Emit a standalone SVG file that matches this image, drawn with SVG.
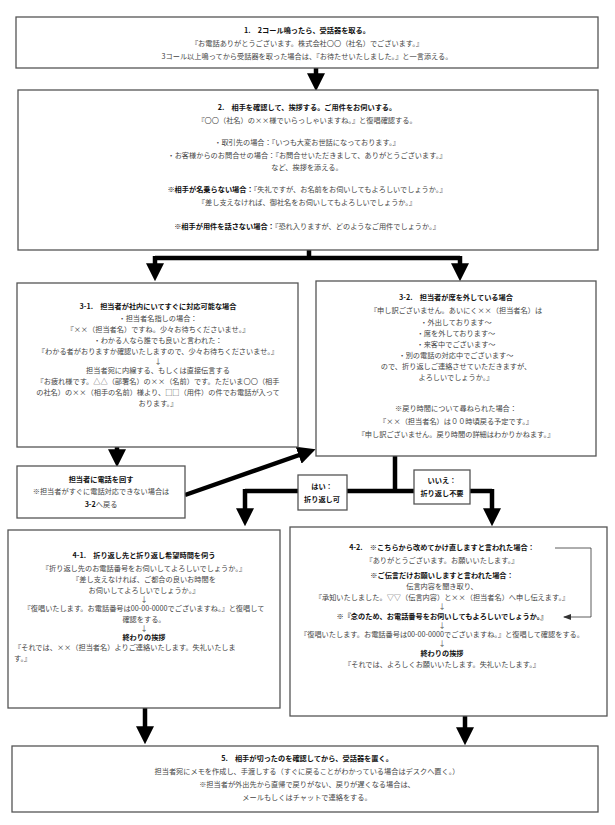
<svg xmlns="http://www.w3.org/2000/svg" width="615" height="825" viewBox="0 0 615 825">
<defs>
<style>
rect.box{fill:#fff;stroke:#555;stroke-width:1.3}
text{font-family:"Noto Sans CJK JP","Noto Sans",sans-serif;font-size:7.2px;fill:#444;text-anchor:middle}
text.b{font-weight:bold;fill:#111}
.thick{fill:none;stroke:#000;stroke-width:4.5}
.thin{fill:none;stroke:#333;stroke-width:0.8}
</style>
<marker id="ah" markerWidth="4" markerHeight="4" refX="1.5" refY="2" orient="auto" markerUnits="strokeWidth"><path d="M0,0 L4,2 L0,4Z" fill="#000"/></marker>
<marker id="sa" markerWidth="8" markerHeight="6" refX="7" refY="3" orient="auto" markerUnits="userSpaceOnUse"><path d="M0,0 L8,3 L0,6Z" fill="#333"/></marker>
</defs>
<rect width="615" height="825" fill="#fff"/>
<g id="connectors">
<path class="thick" d="M316,68 V80" marker-end="url(#ah)"/>
<path class="thick" d="M309,250 V258 M155,258 H460"/>
<path class="thick" d="M155,256 V270" marker-end="url(#ah)"/>
<path class="thick" d="M460,256 V270" marker-end="url(#ah)"/>
<path class="thick" d="M117,447 V456" marker-end="url(#ah)"/>
<path class="thick" d="M185,495 L305,453" marker-end="url(#ah)"/>
<path class="thick" d="M395,456 V491 M245,491 H492"/>
<path class="thick" d="M245,489 V515" marker-end="url(#ah)"/>
<path class="thick" d="M492,489 V515" marker-end="url(#ah)"/>
<path class="thick" d="M145,708 V733" marker-end="url(#ah)"/>
<path class="thick" d="M465,716 V734" marker-end="url(#ah)"/>
</g>
<g id="n1"><rect class="box" x="16" y="17" width="582" height="51"/>
<text class="b" x="307" y="33">1.　2コール鳴ったら、受話器を取る。</text>
<text x="307" y="46">『お電話ありがとうございます。株式会社〇〇（社名）でございます。』</text>
<text x="307" y="59">3コール以上鳴ってから受話器を取った場合は、『お待たせいたしました。』と一言添える。</text></g>
<g id="n2"><rect class="box" x="18" y="90" width="580" height="160"/>
<text class="b" x="307" y="110">2.　相手を確認して、挨拶する。ご用件をお伺いする。</text>
<text x="307" y="123">『〇〇（社名）の××様でいらっしゃいますね。』と復唱確認する。</text>
<text x="307" y="145">・取引先の場合：『いつも大変お世話になっております。』</text>
<text x="307" y="158">・お客様からのお問合せの場合：『お問合せいただきまして、ありがとうございます。』</text>
<text x="307" y="170">など、挨拶を添える。</text>
<text x="307" y="192"><tspan font-weight="bold" fill="#111">※︎相手が名乗らない場合：</tspan>『失礼ですが、お名前をお伺いしてもよろしいでしょうか。』</text>
<text x="307" y="205">『差し支えなければ、御社名をお伺いしてもよろしいでしょうか。』</text>
<text x="307" y="229"><tspan font-weight="bold" fill="#111">※︎相手が用件を話さない場合：</tspan>『恐れ入りますが、どのようなご用件でしょうか。』</text></g>
<g id="n31"><rect class="box" x="17" y="283" width="281" height="164"/>
<text class="b" x="158" y="309">3-1.　担当者が社内にいてすぐに対応可能な場合</text>
<text x="158" y="321">・担当者名指しの場合：</text>
<text x="158" y="332">『××（担当者名）ですね。少々お待ちくださいませ。』</text>
<text x="158" y="343">・わかる人なら誰でも良いと言われた：</text>
<text x="158" y="354">『わかる者がおりますか確認いたしますので、少々お待ちくださいませ。』</text>
<text x="158" y="364">↓︎</text>
<text x="158" y="373">担当者宛に内線する、もしくは直接伝言する</text>
<text x="158" y="384">『お疲れ様です。△△（部署名）の××（名前）です。ただいま〇〇（相手</text>
<text x="158" y="395">の社名）の××（相手の名前）様より、□□（用件）の件でお電話が入って</text>
<text x="158" y="406">おります。』</text></g>
<g id="n32"><rect class="box" x="316" y="281" width="280" height="175"/>
<text class="b" x="456" y="300">3-2.　担当者が席を外している場合</text>
<text x="456" y="313">『申し訳ございません。あいにく××（担当者名）は</text>
<text x="456" y="325">・外出しております～</text>
<text x="456" y="336">・席を外しております～</text>
<text x="456" y="347">・来客中でございます～</text>
<text x="456" y="358">・別の電話の対応中でございます～</text>
<text x="456" y="369">ので、折り返しご連絡させていただきますが、</text>
<text x="456" y="380">よろしいでしょうか。』</text>
<text x="456" y="411">※︎戻り時間について尋ねられた場合：</text>
<text x="456" y="424">『××（担当者名）は００時頃戻る予定です。』</text>
<text x="456" y="437">『申し訳ございません。戻り時間の詳細はわかりかねます。』</text></g>
<g id="n33"><rect class="box" x="17" y="466" width="168" height="52"/>
<text class="b" x="101" y="482">担当者に電話を回す</text>
<text x="101" y="494">※︎担当者がすぐに電話対応できない場合は</text>
<text x="101" y="507"><tspan font-weight="bold" fill="#111">3-2</tspan>へ戻る</text></g>
<g id="lyes"><rect class="box" x="298" y="475" width="49" height="35"/>
<text class="b" x="322" y="489">はい：</text>
<text class="b" x="322" y="502">折り返し可</text></g>
<g id="lno"><rect class="box" x="414" y="470" width="56" height="34"/>
<text class="b" x="442" y="483">いいえ：</text>
<text class="b" x="442" y="496">折り返し不要</text></g>
<g id="n41"><rect class="box" x="8" y="530" width="272" height="178"/>
<text class="b" x="144" y="558">4-1.　折り返し先と折り返し希望時間を伺う</text>
<text x="144" y="571">『折り返し先のお電話番号をお伺いしてよろしいでしょうか。』</text>
<text x="144" y="582">『差し支えなければ、ご都合の良いお時間を</text>
<text x="144" y="593">お伺いしてよろしいでしょうか。』</text>
<text x="144" y="602">↓︎</text>
<text x="144" y="611">『復唱いたします。お電話番号は00-00-0000でございますね。』と復唱して</text>
<text x="144" y="622">確認をする。</text>
<text x="144" y="631">↓︎</text>
<text class="b" x="144" y="640">終わりの挨拶</text>
<text x="14" y="650" style="text-anchor:start">『それでは、××（担当者名）よりご連絡いたします。失礼いたしま</text>
<text x="14" y="661" style="text-anchor:start">す。』</text></g>
<g id="n42"><rect class="box" x="290" y="527" width="317" height="189"/>
<text class="b" x="442" y="550">4-2.　※︎こちらから改めてかけ直しますと言われた場合：</text>
<text x="442" y="563">『ありがとうございます。お願いいたします。』</text>
<text class="b" x="442" y="578">※︎ご伝言だけお願いしますと言われた場合：</text>
<text x="442" y="589">伝言内容を聞き取り、</text>
<text x="442" y="600">『承知いたしました。▽▽（伝言内容）と××（担当者名）へ申し伝えます。』</text>
<text x="442" y="609">↓︎</text>
<text class="b" x="442" y="619">※︎『念のため、お電話番号をお伺いしてもよろしいでしょうか。』</text>
<text x="442" y="628">↓︎</text>
<text x="442" y="637">『復唱いたします。お電話番号は00-00-0000でございますね。』と復唱して確認をする。</text>
<text x="442" y="646">↓︎</text>
<text class="b" x="442" y="656">終わりの挨拶</text>
<text x="442" y="667">『それでは、よろしくお願いいたします。失礼いたします。』</text>
<path class="thin" d="M555,548 H591 V617 H564" marker-end="url(#sa)"/></g>
<g id="n5"><rect class="box" x="12" y="746" width="586" height="66"/>
<text class="b" x="307" y="761">5.　相手が切ったのを確認してから、受話器を置く。</text>
<text x="307" y="774">担当者宛にメモを作成し、手渡しする（すぐに戻ることがわかっている場合はデスクへ置く。）</text>
<text x="307" y="787">※︎担当者が外出先から直帰で戻りがない、戻りが遅くなる場合は、</text>
<text x="307" y="800">メールもしくはチャットで連絡をする。</text></g>
</svg>
